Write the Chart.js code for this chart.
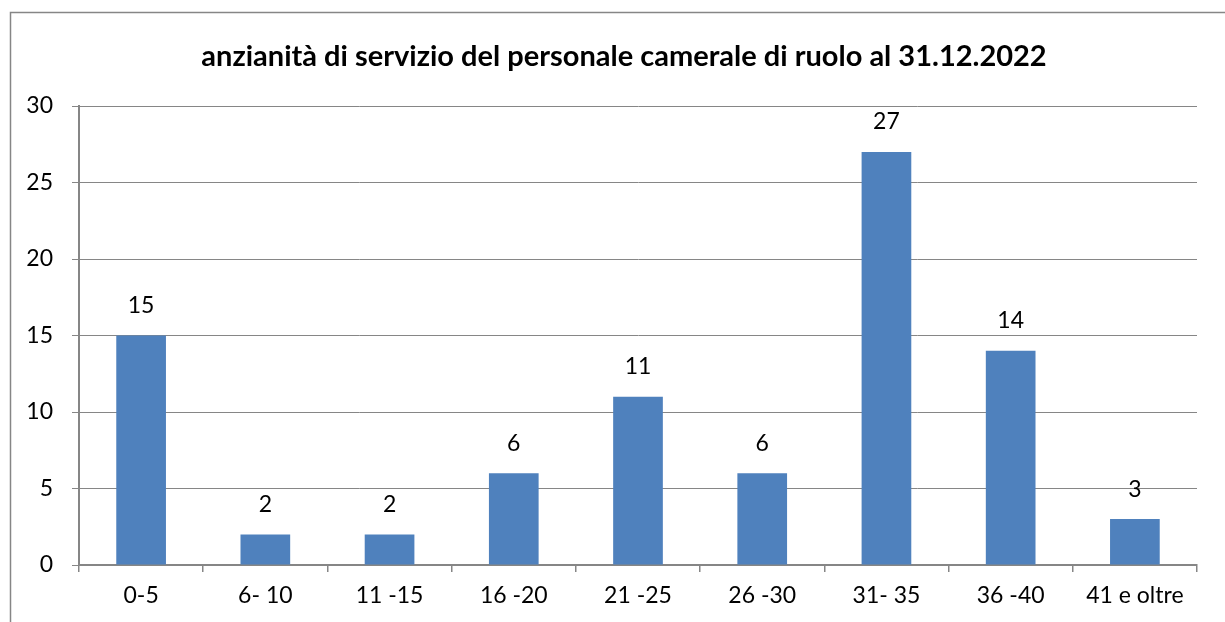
<!DOCTYPE html>
<html>
<head>
<meta charset="utf-8">
<script src="https://cdn.jsdelivr.net/npm/chart.js@4"></script>
<style>
  html, body { margin: 0; padding: 0; background: #fff; }
  #wrap { width: 1225px; height: 622px; }
</style>
</head>
<body>
<div id="wrap"><canvas id="anzianitaChart"></canvas></div>
<script>
// data
const categories = ['0-5', '6- 10', '11 -15', '16 -20', '21 -25', '26 -30', '31- 35', '36 -40', '41 e oltre'];
const counts = [15, 2, 2, 6, 11, 6, 27, 14, 3];
const yTicks = [0, 5, 10, 15, 20, 25, 30];
const chartTitle = 'anzianità di servizio del personale camerale di ruolo al 31.12.2022';

const FONT = 'Lato, "Open Sans", sans-serif';
const GREY = '#868686';

// outer frame of the chart object (right and bottom edges fall outside the page) + title
const framePlugin = {
    id: 'frame',
    beforeDraw(chart) {
        const c = chart.ctx;
        c.save();
        c.strokeStyle = GREY;
        c.lineWidth = 1.5;
        c.beginPath();
        c.moveTo(10.5, 640);
        c.lineTo(10.5, 12.5);
        c.lineTo(1240, 12.5);
        c.stroke();

        c.font = 'bold 29px ' + FONT;
        c.fillStyle = '#000';
        c.textAlign = 'center';
        c.textBaseline = 'middle';
        c.fillText(chartTitle, 624, 57);
        c.restore();
    }
};

// value labels above the bars
const valueLabels = {
    id: 'valueLabels',
    afterDatasetsDraw(chart) {
        const c = chart.ctx;
        const meta = chart.getDatasetMeta(0);
        c.save();
        c.font = '23px ' + FONT;
        c.fillStyle = '#000';
        c.textAlign = 'center';
        c.textBaseline = 'middle';
        meta.data.forEach((bar, i) => {
            c.fillText(String(counts[i]), bar.x, bar.y - 30);
        });
        c.restore();
    }
};

const ctx = document.getElementById('anzianitaChart').getContext('2d');
const anzianitaChart = new Chart(ctx, {
    type: 'bar',
    data: {
        labels: categories,
        datasets: [{
            data: counts,
            backgroundColor: '#4F81BD',
            borderWidth: 0,
            categoryPercentage: 1,
            barPercentage: 0.4
        }]
    },
    options: {
        responsive: true,
        maintainAspectRatio: false,
        animation: false,
        layout: { padding: { left: 12, right: 28, top: 106, bottom: 0 } },
        plugins: {
            legend: { display: false },
            tooltip: { enabled: false },
            title: { display: false }
        },
        scales: {
            x: {
                afterFit(scale) { scale.height = 57; },
                grid: {
                    offset: true,
                    drawOnChartArea: false,
                    drawTicks: true,
                    tickLength: 7,
                    color: GREY,
                    lineWidth: 1.5
                },
                border: { color: GREY, width: 2 },
                ticks: {
                    color: '#000',
                    padding: 10,
                    maxRotation: 0,
                    font: { family: FONT, size: 23 }
                }
            },
            y: {
                min: 0,
                max: 30,
                afterFit(scale) { scale.width = 67; },
                afterBuildTicks(scale) { scale.ticks = yTicks.map(v => ({ value: v })); },
                grid: {
                    color: GREY,
                    lineWidth: 1,
                    tickLength: 7
                },
                border: { color: GREY, width: 2 },
                ticks: {
                    color: '#000',
                    padding: 19,
                    font: { family: FONT, size: 23 }
                }
            }
        }
    },
    plugins: [framePlugin, valueLabels]
});
</script>
</body>
</html>
